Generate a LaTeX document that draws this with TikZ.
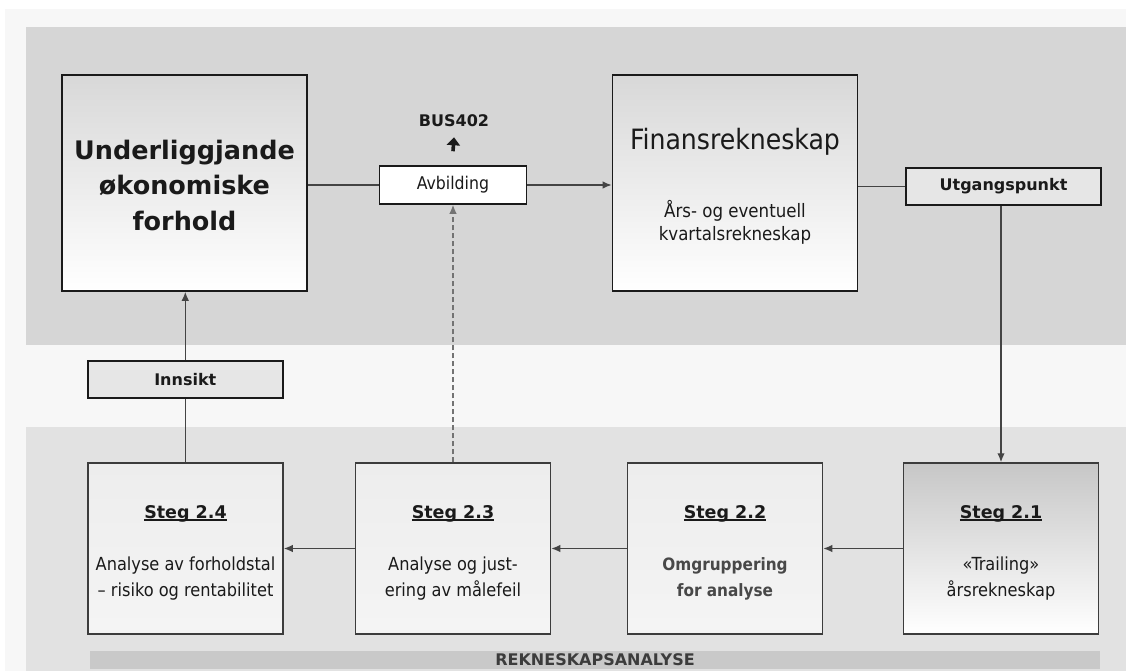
\documentclass[tikz,border=0pt]{standalone}
\usepackage{fontspec}
\setmainfont{DejaVu Sans}
\newfontfamily\condf{DejaVu Sans Condensed}
\usetikzlibrary{arrows.meta}

\definecolor{pagebg}{HTML}{F7F7F7}
\definecolor{bandtop}{HTML}{D6D6D6}
\definecolor{bandlow}{HTML}{E2E2E2}
\definecolor{barfill}{HTML}{C9C9C9}
\definecolor{boxtop}{HTML}{D8D8D8}
\definecolor{stepfill}{HTML}{EDEDED}
\definecolor{tagfill}{HTML}{E6E6E6}
\definecolor{ink}{HTML}{1A1A1A}
\definecolor{linegray}{HTML}{444444}

% underlined step title in the wide bold face, with a strut that lowers the block
\newcommand\stegtitle[1]{{\rmfamily\bfseries\fontsize{17.5}{26}\selectfont
  \rule{0pt}{21pt}\setbox0\hbox{#1}\rlap{\rule[-2.5pt]{\wd0}{1.2pt}}\box0}}

\tikzset{
  bigbox/.style={draw=ink, line width=1.6pt, top color=boxtop, bottom color=white,
    minimum width=245pt, minimum height=216pt, inner sep=0pt, align=center, text=ink},
  stepbox/.style={draw=ink!85, line width=1.5pt, top color=stepfill, bottom color=stepfill!60!white,
    minimum width=195pt, minimum height=171pt, inner sep=0pt, align=center, text=ink,
    font=\condf\fontsize{18}{26}\selectfont},
  shadedstep/.style={stepbox, top color=boxtop!92!black, bottom color=white},
  tagbox/.style={draw=ink, line width=1.5pt, fill=tagfill, minimum width=195pt,
    minimum height=37pt, inner sep=0pt, text=ink, font=\bfseries\fontsize{16}{19}\selectfont},
  txt/.style={inner sep=0pt, text=ink, align=center},
  conn/.style={draw=linegray, line width=1.4pt},
  tip/.style={-{Latex[length=9pt,width=7.5pt]}},
  dashconn/.style={draw=linegray!75, line width=1.4pt, dash pattern=on 5pt off 3pt},
}

\begin{document}
\begin{tikzpicture}[x=1pt,y=-1pt]
  \useasboundingbox (0,0) rectangle (1126,671);
  % page and the two grey bands
  \fill[white] (0,0) rectangle (1126,671);
  \fill[pagebg] (5,9) rectangle (1126,671);
  \fill[bandtop] (26,27) rectangle (1126,345);
  \fill[bandlow] (26,427) rectangle (1126,671);

  % upper row
  \node[bigbox, font=\bfseries\fontsize{25.5}{35.5}\selectfont] (und) at (184.5,183)
    {\rule{0pt}{24pt}Underliggjande\\økonomiske\\forhold};
  \node[bigbox] (fin) at (735,183) {};
  \node[txt, font=\condf\fontsize{28}{34}\selectfont] (fint) at (735,142) {Finansrekneskap};
  \node[txt, font=\condf\fontsize{18.5}{23}\selectfont] (fins) at (735,222)
    {Års- og eventuell\\kvartalsrekneskap};

  \node[draw=ink, line width=1.5pt, fill=white, minimum width=147pt, minimum height=38pt,
        inner sep=0pt, text=ink, font=\condf\fontsize{17.5}{20}\selectfont] (avb) at (453,185) {Avbilding};
  \node[txt, font=\bfseries\fontsize{16}{19}\selectfont] (bus) at (454,121) {BUS402};
  \node[tagbox] (utg) at (1003.5,186.5) {Utgangspunkt};
  \node[tagbox] (ins) at (185.3,379.5) {Innsikt};

  % analysis steps
  \node[stepbox] (s24) at (185.5,548.5)
    {\stegtitle{Steg 2.4}\\[26pt]Analyse av forholdstal\\– risiko og rentabilitet};
  \node[stepbox] (s23) at (453,548.5)
    {\stegtitle{Steg 2.3}\\[26pt]Analyse og just-\\ering av målefeil};
  \node[stepbox] (s22) at (725,548.5)
    {\stegtitle{Steg 2.2}\\[26pt]{\bfseries\fontsize{17}{26}\selectfont\color{ink!80}Omgruppering}\\{\bfseries\fontsize{17}{26}\selectfont\color{ink!80}for analyse}};
  \node[shadedstep] (s21) at (1001,548.5)
    {\stegtitle{Steg 2.1}\\[26pt]«Trailing»\\årsrekneskap};

  \node[fill=barfill, minimum width=1010pt, minimum height=18pt, inner sep=0pt,
        text=ink!85, font=\bfseries\fontsize{16}{18}\selectfont] (bar) at (595,659.5) {REKNESKAPSANALYSE};

  % connectors
  \draw[conn] (und.east |- avb.west) -- (avb.west);
  \draw[conn, tip] (avb.east) -- (avb.east -| fin.west);
  \draw[conn] (fin.east |- utg.west) -- (utg.west);
  \draw[conn, tip] (s21.north |- utg.south) -- (s21.north);
  \draw[conn, tip] (s21.west) -- (s22.east);
  \draw[conn, tip] (s22.west) -- (s23.east);
  \draw[conn, tip] (s23.west) -- (s24.east);
  \draw[conn] (s24.north) -- (s24.north |- ins.south);
  \draw[conn, tip] (ins.north) -- (ins.north |- und.south);
  \draw[dashconn, tip] (s23.north) -- (s23.north |- avb.south);
  \draw[line width=3.6pt, draw=ink, -{Triangle[length=8pt,width=13pt]}]
    ([yshift=14pt]avb.north) -- ([yshift=-10pt]bus.south);
\end{tikzpicture}
\end{document}
